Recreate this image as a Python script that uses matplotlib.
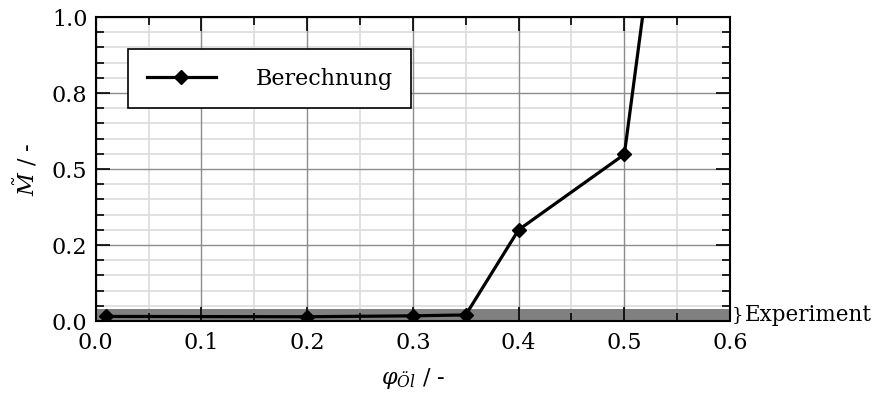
import numpy as np
import matplotlib
matplotlib.use("Agg")
import matplotlib.pyplot as plt
from matplotlib.ticker import MultipleLocator, FormatStrFormatter
import matplotlib.transforms as mtransforms

plt.rcParams['font.family'] = ['DejaVu Serif']
plt.rcParams['mathtext.fontset'] = 'dejavuserif'

# Berechnung (simulated torque ratio vs. oil fraction)
phi_oil = [0.01, 0.20, 0.30, 0.35, 0.40, 0.50, 0.55]
m_calc = [0.015, 0.014, 0.017, 0.020, 0.30, 0.548, 1.86]

# Experimental band
exp_low, exp_high = 0.0, 0.04

x_major, x_minor = 0.1, 0.05
y_major, y_minor = 0.25, 0.05

fig = plt.figure(figsize=(8.86, 4.01), dpi=100)
ax = fig.add_axes([0.108, 0.1995, 0.716, 0.7581])
ax.set_xlim(0.0, 0.6)
ax.set_ylim(0.0, 1.0)

ax.xaxis.set_major_locator(MultipleLocator(x_major))
ax.xaxis.set_minor_locator(MultipleLocator(x_minor))
ax.yaxis.set_major_locator(MultipleLocator(y_major))
ax.yaxis.set_minor_locator(MultipleLocator(y_minor))
ax.xaxis.set_major_formatter(FormatStrFormatter('%.1f'))
ax.yaxis.set_major_formatter(FormatStrFormatter('%.1f'))

# grid drawn as plain lines so the experiment band can sit above it
for xv in ax.xaxis.get_minorticklocs():
    ax.axvline(xv, color='#dcdcdc', lw=1.2, zorder=0.6)
for yv in ax.yaxis.get_minorticklocs():
    ax.axhline(yv, color='#dcdcdc', lw=1.2, zorder=0.6)
for xv in ax.xaxis.get_majorticklocs():
    ax.axvline(xv, color='#8c8c8c', lw=1.0, zorder=0.7)
for yv in ax.yaxis.get_majorticklocs():
    ax.axhline(yv, color='#8c8c8c', lw=1.0, zorder=0.7)

ax.axhspan(exp_low, exp_high, color='#808080', lw=0, zorder=1)

ax.plot(phi_oil, m_calc, color='black', lw=2.3, marker='D', ms=7,
        zorder=3, label='Berechnung')

ax.tick_params(which='both', direction='in', top=True, right=True,
               width=1.2, colors='black', labelsize=16)
ax.tick_params(which='major', length=10)
ax.tick_params(which='minor', length=5.5)
ax.tick_params(axis='x', pad=8)
ax.tick_params(axis='y', pad=6)
for s in ax.spines.values():
    s.set_linewidth(1.5)

ax.set_xlabel(r'$\varphi_{\mathit{Öl}}$ / -', fontsize=16, va='center')
ax.xaxis.set_label_coords(0.5, -0.19)
ax.set_ylabel(r'$\tilde{M}$ / -', fontsize=16, va='center')
ax.yaxis.set_label_coords(-0.111, 0.5)

trans = mtransforms.blended_transform_factory(ax.transAxes, ax.transData)
ax.text(1.003, (exp_low + exp_high) / 2, '}', transform=trans, fontsize=13,
        va='center', ha='left', clip_on=False)
ax.text(1.024, (exp_low + exp_high) / 2, 'Experiment', transform=trans,
        fontsize=15.5, va='center', ha='left', clip_on=False)

leg = ax.legend(loc='upper left', bbox_to_anchor=(0.051, 0.895),
                borderaxespad=0, fontsize=16, handlelength=3.1,
                handletextpad=1.8, borderpad=0.84, fancybox=False,
                framealpha=1, edgecolor='black')
leg.get_frame().set_linewidth(1.2)

fig.savefig('out.png', dpi=100)
